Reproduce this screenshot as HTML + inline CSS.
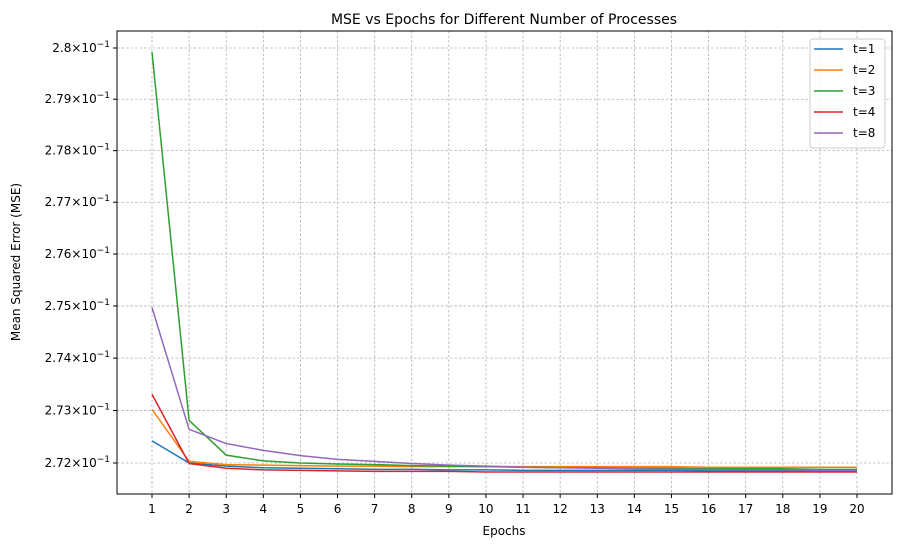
<!DOCTYPE html>
<html><head><meta charset="utf-8"><style>
body{margin:0;background:#fff;overflow:hidden;}
svg{display:block;}
svg text{font-family:"DejaVu Sans","Liberation Sans",sans-serif;fill:#000;}
</style></head><body>
<svg id="chart" width="902" height="547" viewBox="0 0 902 547">
<g id="grid"></g><g id="series"></g><g id="axes"></g><g id="legend"></g>
<text x="504" y="24" text-anchor="middle" font-size="14">MSE vs Epochs for Different Number of Processes</text>
<text x="504" y="535" text-anchor="middle" font-size="12">Epochs</text>
<text x="20" y="262" text-anchor="middle" font-size="12" transform="rotate(-90 20 262)">Mean Squared Error (MSE)</text>
</svg>
<script>
const epochs=[1,2,3,4,5,6,7,8,9,10,11,12,13,14,15,16,17,18,19,20];
const seriesNames=["t=1","t=2","t=3","t=4","t=8"];
const seriesColors=["#1f77b4","#ff7f0e","#2ca02c","#d62728","#9467bd"];
const mseT1=[0.27242,0.27200,0.27194,0.27191,0.27190,0.27189,0.27188,0.27188,0.27187,0.27187,0.27186,0.27186,0.27186,0.27186,0.27186,0.27185,0.27185,0.27185,0.27185,0.27185];
const mseT2=[0.27302,0.27203,0.27197,0.27196,0.27195,0.27194,0.27194,0.27193,0.27193,0.27193,0.27193,0.27193,0.27193,0.27193,0.27193,0.27192,0.27192,0.27192,0.27192,0.27192];
const mseT3=[0.27992,0.27281,0.27215,0.27204,0.27200,0.27198,0.27197,0.27195,0.27194,0.27193,0.27192,0.27191,0.27191,0.27190,0.27190,0.27189,0.27189,0.27189,0.27188,0.27188];
const mseT4=[0.27331,0.27199,0.27190,0.27187,0.27186,0.27185,0.27184,0.27184,0.27184,0.27183,0.27183,0.27183,0.27183,0.27183,0.27183,0.27183,0.27183,0.27183,0.27183,0.27183];
const mseT8=[0.27497,0.27264,0.27237,0.27224,0.27214,0.27207,0.27203,0.27199,0.27196,0.27194,0.27192,0.27191,0.27190,0.27189,0.27188,0.27188,0.27187,0.27187,0.27186,0.27186];
const allSeries=[mseT1,mseT2,mseT3,mseT4,mseT8];
const yTicks=[0.272,0.273,0.274,0.275,0.276,0.277,0.278,0.279,0.280];
const yTickMant=["2.72","2.73","2.74","2.75","2.76","2.77","2.78","2.79","2.8"];

const L=117,R=892,T=31,B=494;
const x=e=>152+(e-1)*(857-152)/19;
const ly0=Math.log10(0.272),ly1=Math.log10(0.280);
const y=v=>463+(Math.log10(v)-ly0)/(ly1-ly0)*(48-463);
const NS="http://www.w3.org/2000/svg";
function mk(parent,tag,attrs,text){const el=document.createElementNS(NS,tag);for(const k in attrs)el.setAttribute(k,attrs[k]);if(text!==undefined)el.textContent=text;document.getElementById(parent).appendChild(el);return el;}

epochs.forEach(e=>{const el=mk("grid","line",{x1:x(e),x2:x(e),y1:T,y2:B,stroke:"#b0b0b0","stroke-width":0.8,"stroke-dasharray":"2.5,2"});

});
yTicks.forEach(v=>{const el=mk("grid","line",{x1:L,x2:R,y1:y(v),y2:y(v),stroke:"#b0b0b0","stroke-width":0.8,"stroke-dasharray":"2.5,2"});

});

allSeries.forEach((s,i)=>{const p=mk("series","polyline",{points:s.map((v,j)=>x(epochs[j])+","+y(v)).join(" "),fill:"none",stroke:seriesColors[i],"stroke-width":1.5});

});

const fr=mk("axes","rect",{x:L,y:T,width:R-L,height:B-T,fill:"none",stroke:"#000","stroke-width":1});


epochs.forEach(e=>{mk("axes","line",{x1:x(e),x2:x(e),y1:B,y2:B+4,stroke:"#000"});
const t=mk("axes","text",{x:x(e),y:B+19,"text-anchor":"middle","font-size":12},String(e));

});
yTicks.forEach((v,i)=>{mk("axes","line",{x1:L-4,x2:L,y1:y(v),y2:y(v),stroke:"#000"});
const t=mk("axes","text",{x:L-7,y:y(v)+4,"text-anchor":"end","font-size":12});
t.innerHTML=yTickMant[i]+"\u00d710<tspan dy='-5' font-size='9'>\u22121</tspan>";

});

const lg=mk("legend","rect",{x:810,y:39,width:75,height:109,rx:3,fill:"#fff","fill-opacity":0.8,stroke:"#ccc"});


seriesNames.forEach((n,i)=>{const yy=49+i*21;
mk("legend","line",{x1:814,x2:843,y1:yy,y2:yy,stroke:seriesColors[i],"stroke-width":1.5});
const t=mk("legend","text",{x:853,y:yy+4,"font-size":12},n);

});
</script>
</body></html>
